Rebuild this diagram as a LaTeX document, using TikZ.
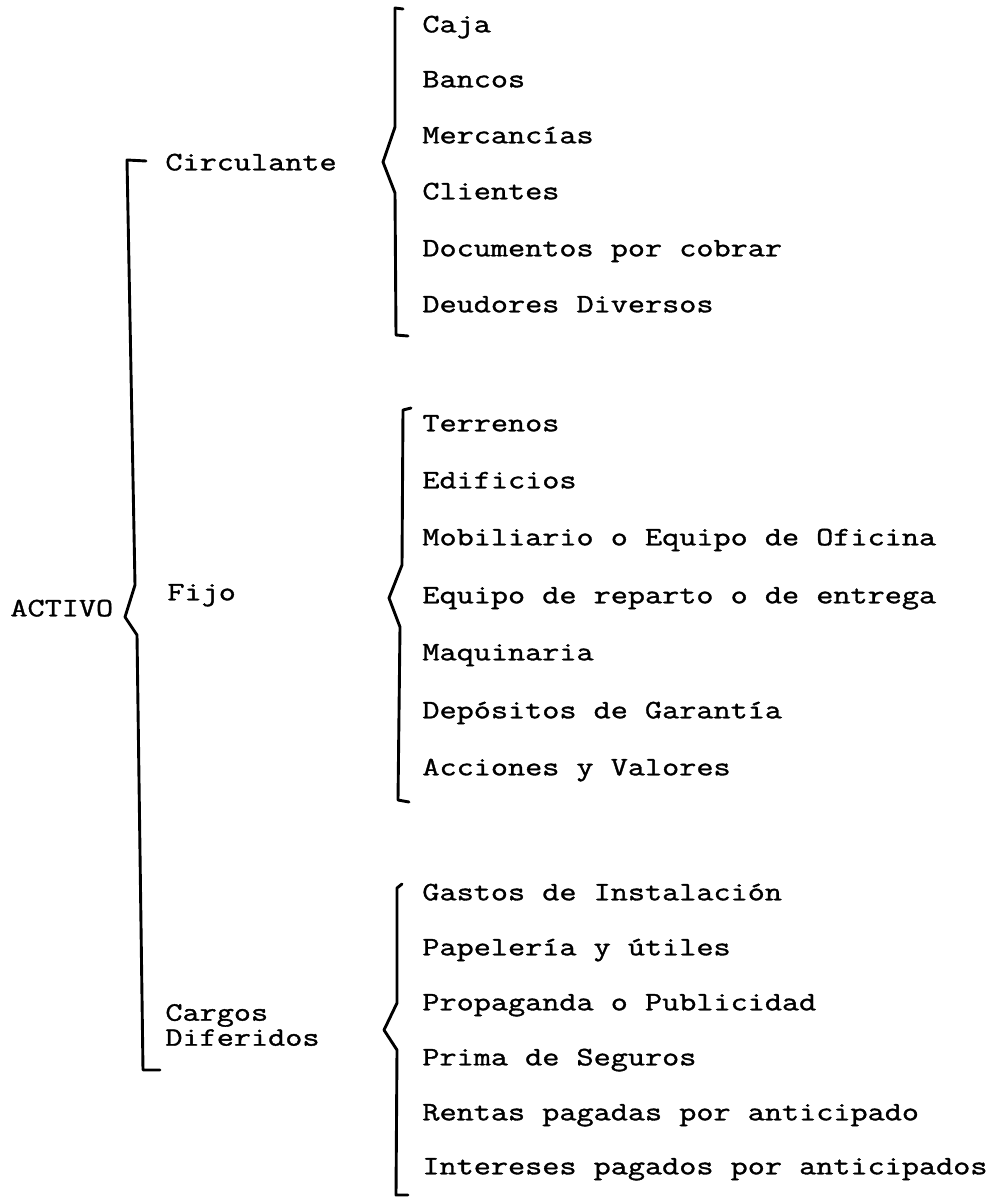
\documentclass[tikz,border=0pt]{standalone}
\usepackage{fontspec}
\newfontfamily\typew[FakeBold=1.3, FakeStretch=1.25]{Latin Modern Mono}
\begin{document}
\begin{tikzpicture}[x=0.5pt,y=-0.5pt,
  txt/.style={font=\typew\fontsize{13.3}{12.5}\selectfont, anchor=mid west, inner sep=0pt},
  brk/.style={line width=1.45pt, line join=round, line cap=round}]
\useasboundingbox (0,0) rectangle (991,1199);
% left column
\node[txt] (activo) at (10,612) {ACTIVO};
\node[txt] (circ) at (165,166) {Circulante};
\node[txt] (fijo) at (167,596) {Fijo};
\node[txt, anchor=west, align=left] (cargos) at (165,1025) {Cargos\\Diferidos};
% group 1
\foreach \t/\y [count=\i] in {Caja/28, Bancos/83, Mercancías/139, Clientes/195, Documentos por cobrar/252, Deudores Diversos/308}
  \node[txt] (a\i) at (422,\y) {\t};
% group 2
\foreach \t/\y [count=\i] in {Terrenos/427, Edificios/484, Mobiliario o Equipo de Oficina/541, Equipo de reparto o de entrega/599, Maquinaria/656, Depósitos de Garantía/714, Acciones y Valores/771}
  \node[txt] (b\i) at (422,\y) {\t};
% group 3
\foreach \t/\y [count=\i] in {Gastos de Instalación/896, Papelería y útiles/951, Propaganda o Publicidad/1006, Prima de Seguros/1061, Rentas pagadas por anticipado/1116, Intereses pagados por anticipados/1170}
  \node[txt] (c\i) at (422,\y) {\t};
% main bracket
\draw[brk] (146,161) -- (127,160) -- (135,585) -- (125,617) -- (137,635) -- (143,1070) -- (160,1070);
% group brackets
\draw[brk] (403,9) -- (395,8) -- (395,127) -- (383,162) -- (395,193) -- (396,335) -- (408,336);
\draw[brk] (411,408) -- (403,410) -- (402,565) -- (389,598) -- (400,627) -- (398,800) -- (409,802);
\draw[brk] (402,884) -- (397,888) -- (397,1003) -- (384,1030) -- (397,1050) -- (396,1195) -- (408,1195);
\end{tikzpicture}
\end{document}
